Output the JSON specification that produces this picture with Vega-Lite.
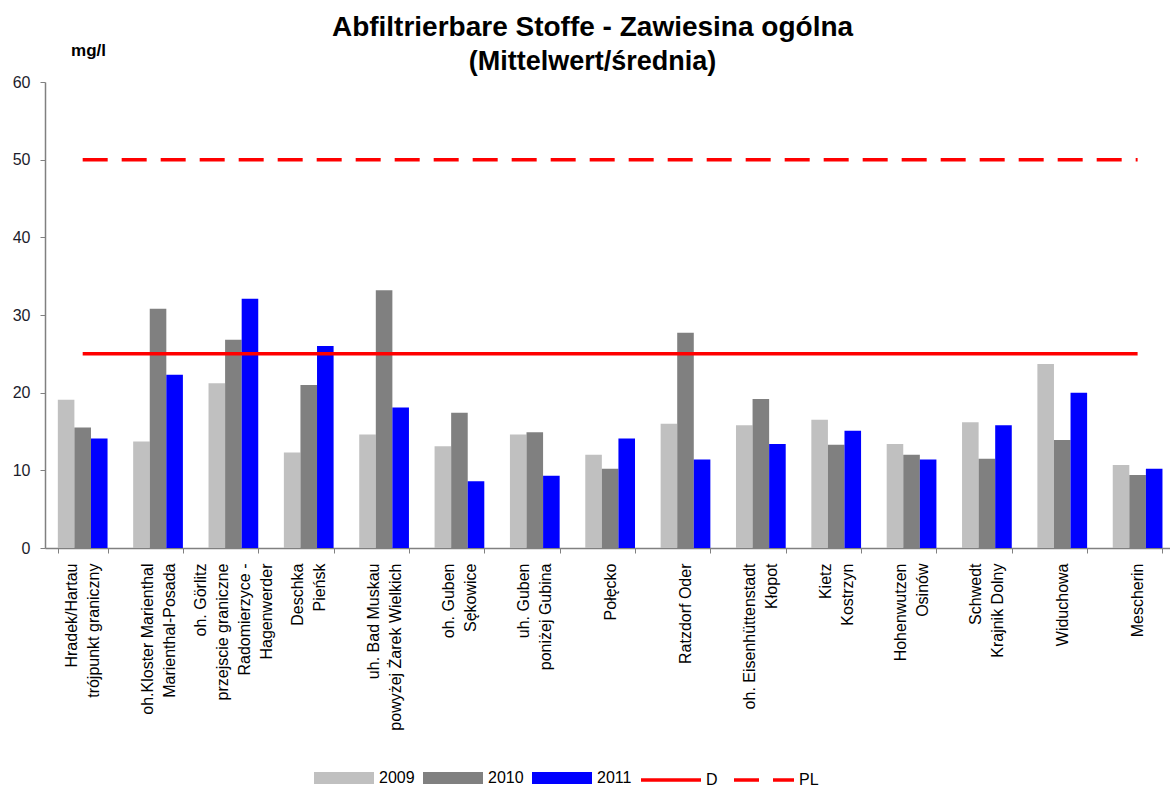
{
  "$schema": "https://vega.github.io/schema/vega-lite/v6.json",
  "width": 1125,
  "height": 466,
  "autosize": {"type": "none"},
  "padding": {"left": 45, "top": 82, "right": 0, "bottom": 239},
  "background": "white",
  "config": {
    "view": {"stroke": null},
    "font": "Liberation Sans"
  },
  "title": {
    "text": "Abfiltrierbare Stoffe - Zawiesina ogólna",
    "subtitle": "(Mittelwert/średnia)",
    "anchor": "middle",
    "dx": -15,
    "font": "Liberation Sans",
    "fontSize": 28,
    "fontWeight": "bold",
    "color": "#000000",
    "subtitleFont": "Liberation Sans",
    "subtitleFontSize": 27,
    "subtitleFontWeight": "bold",
    "subtitleColor": "#000000",
    "subtitlePadding": 7,
    "offset": -34
  },
  "datasets": {
    "bars": [
      {"site": "Hradek/Hartau|trójpunkt graniczny", "year": "2009", "value": 19.1},
      {"site": "Hradek/Hartau|trójpunkt graniczny", "year": "2010", "value": 15.5},
      {"site": "Hradek/Hartau|trójpunkt graniczny", "year": "2011", "value": 14.1},
      {"site": "oh.Kloster Marienthal|Marienthal-Posada", "year": "2009", "value": 13.7},
      {"site": "oh.Kloster Marienthal|Marienthal-Posada", "year": "2010", "value": 30.8},
      {"site": "oh.Kloster Marienthal|Marienthal-Posada", "year": "2011", "value": 22.3},
      {"site": "oh. Görlitz|przejscie graniczne|Radomierzyce -|Hagenwerder", "year": "2009", "value": 21.2},
      {"site": "oh. Görlitz|przejscie graniczne|Radomierzyce -|Hagenwerder", "year": "2010", "value": 26.8},
      {"site": "oh. Görlitz|przejscie graniczne|Radomierzyce -|Hagenwerder", "year": "2011", "value": 32.1},
      {"site": "Deschka|Pieńsk", "year": "2009", "value": 12.3},
      {"site": "Deschka|Pieńsk", "year": "2010", "value": 21.0},
      {"site": "Deschka|Pieńsk", "year": "2011", "value": 26.0},
      {"site": "uh. Bad Muskau|powyżej Żarek Wielkich", "year": "2009", "value": 14.6},
      {"site": "uh. Bad Muskau|powyżej Żarek Wielkich", "year": "2010", "value": 33.2},
      {"site": "uh. Bad Muskau|powyżej Żarek Wielkich", "year": "2011", "value": 18.1},
      {"site": "oh. Guben|Sękowice", "year": "2009", "value": 13.1},
      {"site": "oh. Guben|Sękowice", "year": "2010", "value": 17.4},
      {"site": "oh. Guben|Sękowice", "year": "2011", "value": 8.6},
      {"site": "uh. Guben|poniżej Gubina", "year": "2009", "value": 14.6},
      {"site": "uh. Guben|poniżej Gubina", "year": "2010", "value": 14.9},
      {"site": "uh. Guben|poniżej Gubina", "year": "2011", "value": 9.3},
      {"site": "Połęcko", "year": "2009", "value": 12.0},
      {"site": "Połęcko", "year": "2010", "value": 10.2},
      {"site": "Połęcko", "year": "2011", "value": 14.1},
      {"site": "Ratzdorf Oder", "year": "2009", "value": 16.0},
      {"site": "Ratzdorf Oder", "year": "2010", "value": 27.7},
      {"site": "Ratzdorf Oder", "year": "2011", "value": 11.4},
      {"site": "oh. Eisenhüttenstadt|Kłopot", "year": "2009", "value": 15.8},
      {"site": "oh. Eisenhüttenstadt|Kłopot", "year": "2010", "value": 19.2},
      {"site": "oh. Eisenhüttenstadt|Kłopot", "year": "2011", "value": 13.4},
      {"site": "Kietz|Kostrzyn", "year": "2009", "value": 16.5},
      {"site": "Kietz|Kostrzyn", "year": "2010", "value": 13.3},
      {"site": "Kietz|Kostrzyn", "year": "2011", "value": 15.1},
      {"site": "Hohenwutzen|Osinów", "year": "2009", "value": 13.4},
      {"site": "Hohenwutzen|Osinów", "year": "2010", "value": 12.0},
      {"site": "Hohenwutzen|Osinów", "year": "2011", "value": 11.4},
      {"site": "Schwedt|Krajnik Dolny", "year": "2009", "value": 16.2},
      {"site": "Schwedt|Krajnik Dolny", "year": "2010", "value": 11.5},
      {"site": "Schwedt|Krajnik Dolny", "year": "2011", "value": 15.8},
      {"site": "Widuchowa", "year": "2009", "value": 23.7},
      {"site": "Widuchowa", "year": "2010", "value": 13.9},
      {"site": "Widuchowa", "year": "2011", "value": 20.0},
      {"site": "Mescherin", "year": "2009", "value": 10.7},
      {"site": "Mescherin", "year": "2010", "value": 9.4},
      {"site": "Mescherin", "year": "2011", "value": 10.2}
    ],
    "limits": [
      {"site": "Hradek/Hartau|trójpunkt graniczny", "level": "D", "value": 25},
      {"site": "Mescherin", "level": "D", "value": 25},
      {"site": "Hradek/Hartau|trójpunkt graniczny", "level": "PL", "value": 50},
      {"site": "Mescherin", "level": "PL", "value": 50}
    ]
  },
  "layer": [
    {
      "data": {"name": "bars"},
      "mark": {"type": "bar"},
      "encoding": {
        "x": {
          "field": "site",
          "type": "nominal",
          "sort": null,
          "scale": {"paddingInner": 0.34, "paddingOuter": 0.135, "align": 0.63},
          "axis": {
            "title": null,
            "labelAngle": -90,
            "labelAlign": "right",
            "labelBaseline": "middle",
            "labelExpr": "datum.value ? split(datum.value, '|') : ''",
            "labelOffset": {
              "condition": [
                {"test": "datum.value && length(split(datum.value, '|')) == 4", "value": -33},
                {"test": "datum.value && length(split(datum.value, '|')) == 2", "value": -11}
              ],
              "value": 0
            },
            "labelFont": "Liberation Sans",
            "labelFontSize": 16,
            "labelLineHeight": 22,
            "labelColor": "#000000",
            "labelPadding": 10,
            "labelLimit": 400,
            "tickBand": "extent",
            "tickSize": 5,
            "tickColor": "#808080",
            "domainColor": "#808080",
            "domainWidth": 1.5,
            "grid": false
          }
        },
        "xOffset": {"field": "year", "type": "nominal"},
        "y": {
          "field": "value",
          "type": "quantitative",
          "scale": {"domain": [0, 60], "nice": false},
          "axis": {
            "values": [0, 10, 20, 30, 40, 50, 60],
            "grid": false,
            "title": "mg/l",
            "titleAngle": 0,
            "titleX": 43,
            "titleY": -27,
            "titleAlign": "center",
            "titleBaseline": "alphabetic",
            "titleFont": "Liberation Sans",
            "titleFontSize": 17,
            "titleFontWeight": "bold",
            "titleColor": "#000000",
            "labelFont": "Liberation Sans",
            "labelFontSize": 16,
            "labelColor": "#1c1c2c",
            "labelPadding": 10,
            "tickSize": 5,
            "tickColor": "#808080",
            "domainColor": "#808080",
            "domainWidth": 1.5
          }
        },
        "color": {
          "field": "year",
          "type": "nominal",
          "scale": {"domain": ["2009", "2010", "2011"], "range": ["#c0c0c0", "#808080", "#0000ff"]},
          "legend": {
            "title": null,
            "orient": "none",
            "legendX": 269,
            "legendY": 666,
            "direction": "horizontal",
            "symbolType": "M-1,-0.2H1V0.2H-1Z",
            "symbolSize": 3600,
            "symbolStrokeWidth": 0,
            "labelFont": "Liberation Sans",
            "labelFontSize": 16,
            "labelColor": "#000000",
            "labelOffset": 5,
            "columnPadding": 8
          }
        }
      }
    },
    {
      "data": {"name": "limits"},
      "mark": {"type": "line", "color": "#ff0000", "strokeWidth": 3.5},
      "encoding": {
        "x": {"field": "site", "type": "nominal", "sort": null},
        "y": {"field": "value", "type": "quantitative"},
        "strokeDash": {
          "field": "level",
          "type": "nominal",
          "scale": {"domain": ["D", "PL"], "range": [[1, 0], [25, 14]]},
          "legend": {
            "title": null,
            "orient": "none",
            "legendX": 594,
            "legendY": 666,
            "direction": "horizontal",
            "symbolType": "stroke",
            "symbolSize": 3600,
            "symbolStrokeColor": "#ff0000",
            "symbolStrokeWidth": 3.5,
            "labelFont": "Liberation Sans",
            "labelFontSize": 16,
            "labelColor": "#000000",
            "labelOffset": 3,
            "columnPadding": 9
          }
        }
      }
    }
  ]
}
